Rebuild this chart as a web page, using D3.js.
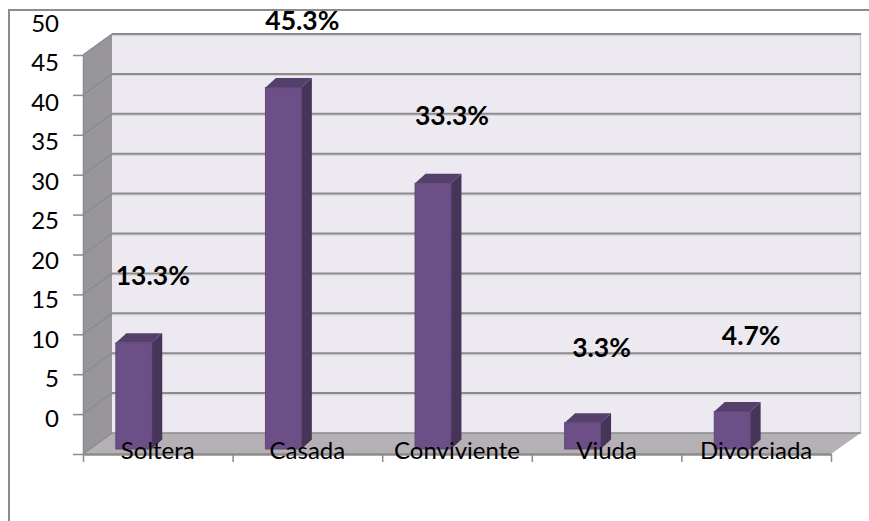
<!DOCTYPE html>
<html>
<head>
<meta charset="utf-8">
<script src="https://cdn.jsdelivr.net/npm/d3@7/dist/d3.min.js"></script>
<style>
html,body{margin:0;padding:0;background:#fff;overflow:hidden}
svg{display:block}
text{font-family:Lato,"Open Sans",sans-serif;fill:#000}
</style>
</head>
<body>
<svg id="chart" width="869" height="521"></svg>
<script>
// Estado civil: share of respondents in each category
const categories = ["Soltera", "Casada", "Conviviente", "Viuda", "Divorciada"];
const percentages = [13.3, 45.3, 33.3, 3.3, 4.7];
const percentLabels = ["13.3%", "45.3%", "33.3%", "3.3%", "4.7%"];
const axisTicks = [0, 5, 10, 15, 20, 25, 30, 35, 40, 45, 50];
const axisLabels = [0, 5, 10, 15, 20, 25, 30, 35, 40, 45, 50];

const svg = d3.select("#chart");

// Projection of the 3D box: front plane plus the receding depth vector
const front = {left: 83, right: 831, bottom: 454, top: 55};
const depth = {x: 29, y: -21};
const barDepth = {x: 10.5, y: -9.5};
const barInset = {x: -24, y: -5};
const wallRight = front.right + depth.x + 0.5;

const x = d3.scaleBand().domain(categories).range([front.left, front.right]).paddingInner(0.76).paddingOuter(0.38);
const y = d3.scaleLinear().domain([0, 50]).range([front.bottom, front.top]);
const yLabel = d3.scaleLinear().domain([0, 50]).range([418, 23]);

const grid = "#8b8b8b";
const poly = pts => pts.map(p => p.join(",")).join(" ");

// Outer frame, open on the right and bottom edges
svg.append("path").attr("d", "M9,521V10H869").attr("fill", "none").attr("stroke", "#8c8c8c").attr("stroke-width", 2);

// Back wall, side wall and floor
svg.append("polygon").attr("fill", "#ece9f1")
  .attr("points", poly([[front.left + depth.x, front.top + depth.y], [wallRight, front.top + depth.y],
                        [wallRight, front.bottom + depth.y], [front.left + depth.x, front.bottom + depth.y]]));
svg.append("polygon").attr("fill", "#98969b")
  .attr("points", poly([[front.left, front.top], [front.left + depth.x, front.top + depth.y],
                        [front.left + depth.x, front.bottom + depth.y], [front.left, front.bottom]]));
svg.append("polygon").attr("fill", "#b5b0b5")
  .attr("points", poly([[front.left, front.bottom], [front.left + depth.x, front.bottom + depth.y],
                        [wallRight, front.bottom + depth.y], [front.right, front.bottom]]));
svg.append("line").attr("x1", wallRight).attr("x2", wallRight)
  .attr("y1", front.top + depth.y).attr("y2", front.bottom + depth.y).attr("stroke", "#cfcdd3").attr("stroke-width", 1.5);

// Gridlines across the back wall and down the side wall
const gridG = svg.append("g").attr("fill", "none");
axisTicks.forEach(t => {
  const yy = y(t);
  const backY = yy + depth.y;
  if (t > 0) {
    gridG.append("line").attr("x1", front.left + depth.x).attr("x2", wallRight + 0.5)
      .attr("y1", backY + 1.6).attr("y2", backY + 1.6).attr("stroke", "#d6d4da").attr("stroke-width", 1.2);
  }
  gridG.append("line").attr("x1", front.left + depth.x).attr("x2", wallRight + 0.5)
    .attr("y1", backY).attr("y2", backY).attr("stroke", grid).attr("stroke-width", t > 0 ? 2 : 1.5);
  gridG.append("line").attr("x1", front.left).attr("x2", front.left + depth.x)
    .attr("y1", yy).attr("y2", backY).attr("stroke", grid).attr("stroke-width", 1.5);
});

// Axis lines and tick marks
const tickAxis = d3.axisLeft(y).tickValues(axisTicks).tickSize(10).tickSizeOuter(0).tickFormat("");
const yAxisG = svg.append("g").attr("transform", `translate(${front.left},0)`).call(tickAxis);
yAxisG.selectAll("line").attr("stroke", grid).attr("stroke-width", 1.5);
yAxisG.select(".domain").attr("stroke", grid).attr("stroke-width", 1.5);

const xTicks = d3.scaleLinear().domain([0, categories.length]).range([front.left, front.right]);
const xAxisG = svg.append("g").attr("transform", `translate(0,${front.bottom})`)
  .call(d3.axisBottom(xTicks).tickValues(d3.range(categories.length + 1)).tickSize(8).tickSizeOuter(0).tickFormat(""));
xAxisG.selectAll("line").attr("stroke", grid).attr("stroke-width", 1.5);
xAxisG.select(".domain").attr("stroke", grid).attr("stroke-width", 2.5);

// Bars: side face, top face and front face
const bars = svg.append("g").selectAll("g").data(categories.map((c, i) => ({c, v: percentages[i]}))).join("g");
const bx = d => x(d.c) + barInset.x;
const bw = x.bandwidth();
const by = v => y(v) + barInset.y;
bars.append("polygon").attr("fill", "#463558")
  .attr("points", d => poly([[bx(d) + bw, by(d.v)], [bx(d) + bw + barDepth.x, by(d.v) + barDepth.y],
                             [bx(d) + bw + barDepth.x, by(0) + barDepth.y], [bx(d) + bw, by(0)]]));
bars.append("polygon").attr("fill", "#54406b")
  .attr("points", d => poly([[bx(d), by(d.v)], [bx(d) + barDepth.x, by(d.v) + barDepth.y],
                             [bx(d) + bw + barDepth.x, by(d.v) + barDepth.y], [bx(d) + bw, by(d.v)]]));
bars.append("rect").attr("fill", "#6b4f86").attr("stroke", "#5f4778").attr("stroke-width", 1)
  .attr("x", d => bx(d)).attr("y", d => by(d.v)).attr("width", bw).attr("height", d => by(0) - by(d.v));

// Value axis labels
const labelAxis = d3.axisLeft(yLabel).tickValues(axisLabels).tickSize(0).tickPadding(0);
const labelG = svg.append("g").attr("transform", "translate(59,0)").call(labelAxis);
labelG.select(".domain").remove();
labelG.selectAll("text").attr("font-size", 24).attr("dy", "0.35em").style("font-family", "Lato,sans-serif");

// Category labels sit on the floor, over the bars
svg.append("g").selectAll("text").data(categories).join("text")
  .attr("x", c => x(c) + bw / 2).attr("y", 459).attr("text-anchor", "middle").attr("font-size", 24).text(c => c);

// Percentage labels float above each bar
svg.append("g").selectAll("text").data(percentages).join("text")
  .attr("x", (v, i) => x(categories[i]) + barInset.x + bw / 2 + 19)
  .attr("y", v => by(v) - (v < 5 ? 66 : 58))
  .attr("text-anchor", "middle").attr("font-size", 26.5).attr("font-weight", 700)
  .text((v, i) => percentLabels[i]);
</script>
</body>
</html>
